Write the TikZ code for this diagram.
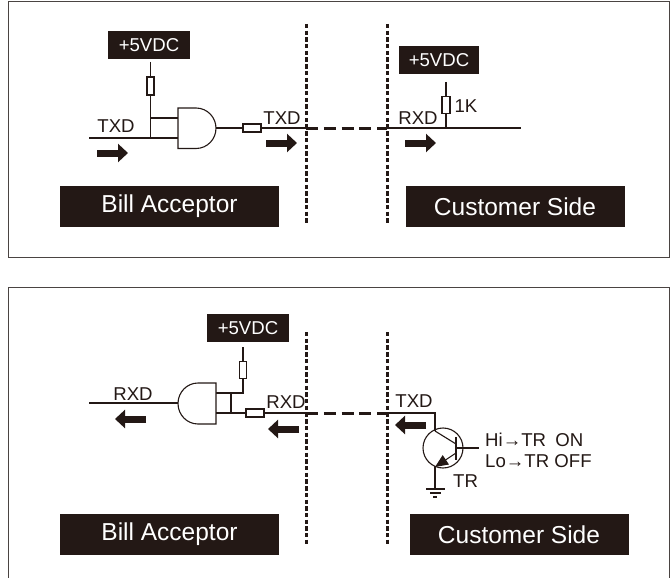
\documentclass[tikz,border=0pt]{standalone}
\usepackage{fontspec}
\setmainfont{Liberation Sans}
\usetikzlibrary{arrows.meta}
\definecolor{ink}{HTML}{231815}
\definecolor{framec}{HTML}{4A4442}
\tikzset{
  x=1pt,y=-1pt,
  wire/.style={draw=ink,line width=1.1pt},
  frameline/.style={draw=framec,line width=1pt},
  divider/.style={draw=ink,line width=3pt,dash pattern=on 4.4pt off 2.3pt},
  busline/.style={draw=ink,line width=3pt,dash pattern=on 12pt off 5.8pt},
  blackbox/.style={fill=ink,text=white,inner sep=0pt,anchor=center},
  lbl/.style={text=ink,inner sep=0pt,font=\fontsize{18.6}{18.6}\selectfont},
  vbox/.style={blackbox,font=\fontsize{18.6}{18.6}\selectfont,minimum height=28pt},
  sidebox/.style={blackbox,font=\fontsize{24.5}{24.5}\selectfont,minimum height=41pt,minimum width=219pt},
  res/.style={draw=ink,fill=white,line width=1.1pt,inner sep=0pt},
  fat/.style={draw=ink,line width=7pt,-{Triangle[length=10pt,width=18pt]}},
  gate/.style={draw=ink,fill=white,line width=1.1pt},
}
\begin{document}
\begin{tikzpicture}
\useasboundingbox (0,0) rectangle (670,578);
% frames
\coordinate (fa1) at (8,2); \coordinate (fa2) at (669,257);
\draw[frameline] (fa1) rectangle (fa2);
\coordinate (fb1) at (8,287); \coordinate (fb2) at (669,590);
\draw[frameline] (fb1) rectangle (fb2);
% ---- top
\node[vbox,minimum width=82pt] (v1) at (149,45) {+5VDC};
\node[vbox,minimum width=80pt] (v2) at (439,60) {+5VDC};
\node[sidebox] (ba1) at (169.5,206.5) {Bill Acceptor};
\node[sidebox] (cs1) at (515,206.5) {Customer Side};
\coordinate (d1t) at (306,24); \coordinate (d1b) at (306,224);
\coordinate (d2t) at (387,24); \coordinate (d2b) at (387,224);
\draw[divider] (d1t) -- (d1b);
\draw[divider] (d2t) -- (d2b);
% input and gate
\coordinate (inL) at (89,138); \coordinate (j1) at (150.5,138); \coordinate (j2) at (150.5,118);
\coordinate (g1) at (178,118); \coordinate (g2) at (178,138);
\draw[wire] (inL) -- (j1) -- (g2);
\draw[wire] (j1) -- (j2) -- (g1);
\coordinate (vt1) at (150.5,62);
\node[res,minimum width=7pt,minimum height=18pt] (r1) at (150.5,86) {};
\draw[wire] (vt1) -- (r1) -- (j2);
\draw[gate] (178,108) -- (196,108) arc[start angle=-90,end angle=90,x radius=20,y radius=20.25] -- (178,148.5) -- cycle;
\coordinate (gout) at (216,128);
\node[res,minimum width=18pt,minimum height=8pt] (r2) at (252,128) {};
\coordinate (bL) at (306,128); \coordinate (bR) at (387,128); \coordinate (outE) at (521,128);
\draw[wire] (gout) -- (r2) -- (bL);
\draw[busline] (bL) -- (bR);
\draw[wire] (bR) -- (outE);
\coordinate (vt2) at (446,82); \coordinate (j3) at (446,128);
\node[res,minimum width=8pt,minimum height=17pt] (r3) at (446,105) {};
\draw[wire] (vt2) -- (r3) -- (j3);
\node[lbl] (t1) at (116,126) {TXD};
\node[lbl] (t2) at (282,118) {TXD};
\node[lbl] (t3) at (418,118) {RXD};
\node[lbl] (t4) at (466,106) {1K};
\coordinate (a1s) at (97,153); \coordinate (a1e) at (128,153);
\coordinate (a2s) at (266,143); \coordinate (a2e) at (297,143);
\coordinate (a3s) at (405,143); \coordinate (a3e) at (436,143);
\draw[fat] (a1s) -- (a1e);
\draw[fat] (a2s) -- (a2e);
\draw[fat] (a3s) -- (a3e);
% ---- bottom
\node[vbox,minimum width=82pt] (v3) at (248,328) {+5VDC};
\node[sidebox] (ba2) at (169.5,534.5) {Bill Acceptor};
\node[sidebox] (cs2) at (519,534.5) {Customer Side};
\coordinate (d3t) at (306,332); \coordinate (d3b) at (306,546);
\coordinate (d4t) at (387,332); \coordinate (d4b) at (387,546);
\draw[divider] (d3t) -- (d3b);
\draw[divider] (d4t) -- (d4b);
\coordinate (inB) at (89,403);
\coordinate (g3) at (216,393); \coordinate (g4) at (216,413);
\coordinate (j4) at (231,413); \coordinate (j5) at (231,393); \coordinate (j6) at (243,393);
\coordinate (vt3) at (243,347);
\node[res,minimum width=7pt,minimum height=17pt] (r4) at (243,370) {};
\draw[wire] (vt3) -- (r4) -- (j6) -- (g3);
\draw[wire] (j5) -- (j4);
\draw[wire] (inB) -- (178,403);
\draw[gate] (216,383) -- (198,383) arc[start angle=90,end angle=270,x radius=20,y radius=-20.5] -- (216,424) -- cycle;
\node[res,minimum width=18pt,minimum height=8pt] (r5) at (255,413) {};
\coordinate (bL2) at (306,413); \coordinate (bR2) at (387,413); \coordinate (tc) at (435,413);
\draw[wire] (g4) -- (r5) -- (bL2);
\draw[busline] (bL2) -- (bR2);
\draw[wire] (bR2) -- (tc) -- (435,431);
\node[lbl] (t5) at (133,394) {RXD};
\node[lbl] (t6) at (286,402) {RXD};
\node[lbl] (t7) at (414,401) {TXD};
\coordinate (a4s) at (146,419); \coordinate (a4e) at (115,419);
\coordinate (a5s) at (299,429); \coordinate (a5e) at (268,429);
\coordinate (a6s) at (426,425); \coordinate (a6e) at (395,425);
\draw[fat] (a4s) -- (a4e);
\draw[fat] (a5s) -- (a5e);
\draw[fat] (a6s) -- (a6e);
% transistor
\node[draw=ink,line width=1.1pt,circle,minimum size=40pt,inner sep=0pt] (tr) at (443,448) {};
\draw[wire] (435,431) -- (456,444);
\draw[ink,line width=1.6pt] (456,437) -- (456,460);
\draw[wire] (456,448) -- (479,448);
\draw[wire,-{Triangle[length=13pt,width=11pt]}] (456,453) -- (435,467);
\draw[wire] (435,466) -- (435,489);
\draw[wire] (426,489) -- (445,489);
\draw[wire] (430,493) -- (441,493);
\draw[wire] (433,497) -- (437,497);
\node[lbl,anchor=west] (hi) at (485,440) {Hi→TR\,\,\,ON};
\node[lbl,anchor=west] (lo) at (485,461) {Lo→TR OFF};
\node[lbl,anchor=west] (tr2) at (453,481) {TR};
\end{tikzpicture}
\end{document}
